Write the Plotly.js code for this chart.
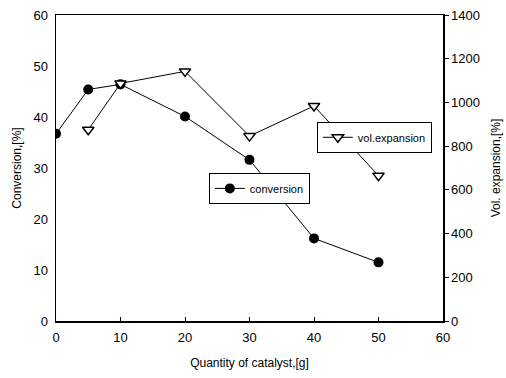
<!DOCTYPE html>
<html><head><meta charset="utf-8">
<script src="https://cdn.plot.ly/plotly-3.0.1.min.js"></script>
<style>body{margin:0;background:#fff}#c{width:506px;height:378px}</style>
</head><body><div id="c"></div>
<script>
const convX = [0, 5, 10, 20, 30, 40, 50];
const conversion = [36.7, 45.4, 46.4, 40.1, 31.6, 16.2, 11.5];
const volX = [5, 10, 20, 30, 40, 50];
const volExpansion = [875, 1087, 1142, 846, 984, 665];

const font = {family: 'Liberation Sans, Arial, sans-serif', color: '#000'};
const f = s => Object.assign({size: s}, font);
const traces = [
  {x: convX, y: conversion, name: 'conversion', type: 'scatter', mode: 'lines+markers',
   line: {color: '#000', width: 1}, marker: {symbol: 'circle', size: 10, color: '#000'},
   legend: 'legend'},
  {x: volX, y: volExpansion, name: 'vol.expansion', type: 'scatter', mode: 'lines+markers', yaxis: 'y2',
   line: {color: '#000', width: 1},
   marker: {symbol: 'triangle-down', size: 10, color: '#fff', line: {color: '#000', width: 1.5}},
   legend: 'legend2'}
];
const layout = {
  width: 506, height: 378,
  margin: {l: 56, r: 63, t: 15, b: 57},
  paper_bgcolor: '#fff', plot_bgcolor: '#fff',
  font: f(12),
  showlegend: true,
  xaxis: {range: [0, 60], dtick: 10, showgrid: false, zeroline: false,
    showline: true, linecolor: '#000', linewidth: 1.5, mirror: true,
    ticks: 'inside', ticklen: 4, tickcolor: '#000', ticklabelstandoff: 4,
    tickfont: f(13),
    title: {text: 'Quantity of catalyst,[g]', font: f(12), standoff: 14}},
  yaxis: {range: [0, 60], dtick: 10, showgrid: false, zeroline: false,
    showline: true, linecolor: '#000', linewidth: 1.5,
    ticks: '', tickcolor: '#000', ticklabelstandoff: 4,
    tickfont: f(13),
    title: {text: 'Conversion,[%]', font: f(12), standoff: 9}},
  yaxis2: {range: [0, 1400], dtick: 200, overlaying: 'y', side: 'right', showgrid: false, zeroline: false,
    showline: true, linecolor: '#000', linewidth: 1.5,
    ticks: 'outside', ticklen: 4, tickcolor: '#000',
    tickfont: f(13),
    title: {text: 'Vol. expansion,[%]', font: f(12), standoff: 12}},
  legend: {x: 0.395, y: 0.484, xanchor: 'left', yanchor: 'top', bgcolor: '#fff',
    bordercolor: '#000', borderwidth: 1, font: f(11), itemwidth: 30},
  legend2: {x: 0.674, y: 0.651, xanchor: 'left', yanchor: 'top', bgcolor: '#fff',
    bordercolor: '#000', borderwidth: 1, font: f(11), itemwidth: 30}
};
Plotly.newPlot('c', traces, layout, {displayModeBar: false, staticPlot: true});
</script></body></html>
